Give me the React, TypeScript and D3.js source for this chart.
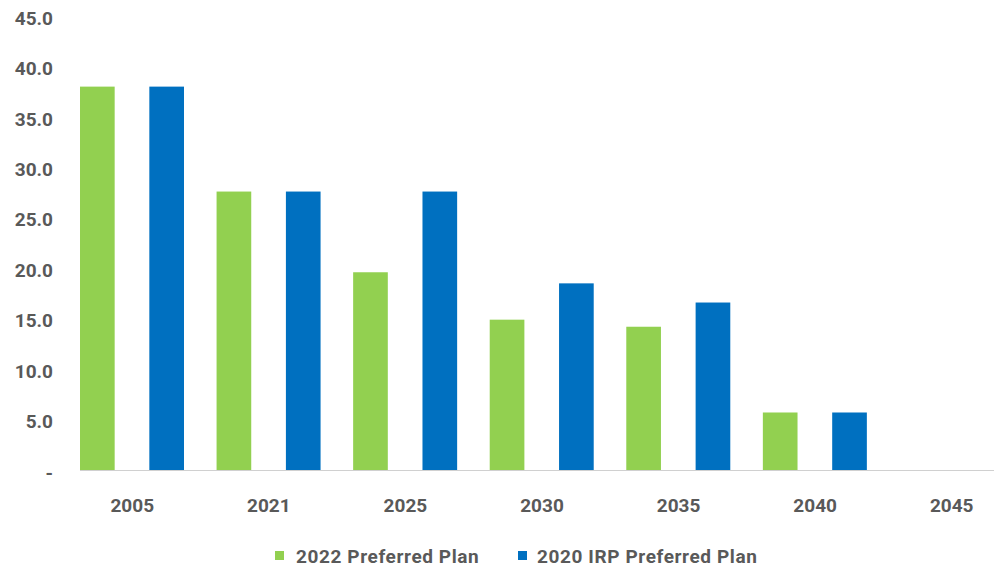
import React from "react";
import * as d3 from "d3";

const categories = ["2005", "2021", "2025", "2030", "2035", "2040", "2045"];
const seriesNames = ["2022 Preferred Plan", "2020 IRP Preferred Plan"];
const plan2022 = [38.0, 27.6, 19.6, 14.9, 14.2, 5.7, 0];
const plan2020 = [38.0, 27.6, 27.6, 18.5, 16.6, 5.7, 0];
const yTicks = [0, 5, 10, 15, 20, 25, 30, 35, 40, 45];
const colors = ["#92D050", "#0070C0"];

const W = 994;
const H = 569;

export default function App() {
  const x0 = d3.scaleBand<string>().domain(categories).range([64, 1020]).paddingInner(0).paddingOuter(0);
  const x1 = d3.scaleBand<string>().domain(seriesNames).range([16, 120]).paddingInner(0.5).paddingOuter(0);
  const y = d3.scaleLinear().domain([0, 45]).range([470, 16]);
  const series = [plan2022, plan2020];
  const font = "Roboto, 'DejaVu Sans', sans-serif";
  const textColor = "#595959";
  const fs = 19;
  const fw = 700;

  return (
    <svg width={W} height={H} style={{ position: "absolute", left: 0, top: 0, background: "#fff" }} fontFamily={font}>
      <rect x={0} y={0} width={W} height={H} fill="#fff" />
      {yTicks.map((t) => (
        <text key={t} x={53} y={y(t) + (t === 0 ? 3 : 2)} dy="0.35em" textAnchor="end" fontSize={fs} fontWeight={fw} fill={textColor}>
          {t === 0 ? "-" : d3.format(".1f")(t)}
        </text>
      ))}
      {categories.map((c, i) => (
        <g key={c}>
          {series.map((s, si) => {
            const v = s[i];
            if (v <= 0) return null;
            return (
              <rect key={si} x={(x0(c) as number) + (x1(seriesNames[si]) as number)} y={y(v)}
                width={x1.bandwidth()} height={y(0) - y(v)} fill={colors[si]} />
            );
          })}
          <text x={(x0(c) as number) + x0.bandwidth() / 2} y={505} dy="0.35em" textAnchor="middle" fontSize={fs}
            fontWeight={fw} fill={textColor}>
            {c}
          </text>
        </g>
      ))}
      <line x1={80} x2={994} y1={y(0) + 0.5} y2={y(0) + 0.5} stroke="#d0d0d0" strokeWidth={1} />
      <g>
        <rect x={275} y={551} width={9} height={9} fill={colors[0]} />
        <text x={296} y={556} dy="0.35em" fontSize={fs} fontWeight={fw} fill={textColor} style={{ letterSpacing: "0.6px" }}>
          {seriesNames[0]}
        </text>
        <rect x={518} y={551} width={9} height={9} fill={colors[1]} />
        <text x={537} y={556} dy="0.35em" fontSize={fs} fontWeight={fw} fill={textColor} style={{ letterSpacing: "0.6px" }}>
          {seriesNames[1]}
        </text>
      </g>
    </svg>
  );
}
